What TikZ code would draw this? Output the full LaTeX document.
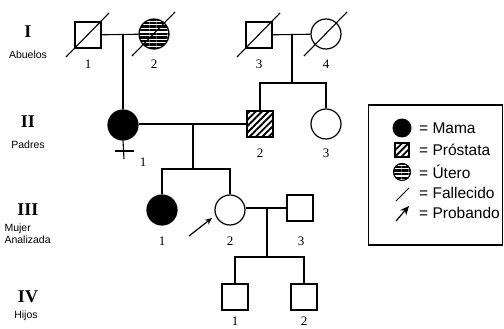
\documentclass[tikz,border=0pt]{standalone}
\usepackage{fontspec}
\setmainfont{Liberation Serif}
\setsansfont{Liberation Sans}
\usetikzlibrary{arrows.meta,positioning,calc,patterns.meta}

% diagonal stroke for deceased individuals
\newcommand{\fallecido}[1]{\draw[line width=1.1pt] ($(#1)+(-22,22)$) -- ($(#1)+(21,-22)$);}

\begin{document}
\begin{tikzpicture}[x=1pt,y=-1pt,
  male/.style={draw,line width=1.2pt,minimum size=26pt,inner sep=0pt},
  female/.style={draw,circle,line width=1.2pt,minimum size=30pt,inner sep=0pt},
  affected/.style={fill=black},
  prostata/.style={pattern={Lines[angle=45,distance=4.5pt,line width=1.9pt]}},
  utero/.style={pattern={Lines[angle=0,distance=3.6pt,line width=2.3pt]}},
  lin/.style={line width=1.1pt},
  num/.style={font=\fontsize{13}{15}\selectfont},
  gen/.style={font=\fontsize{18}{20}\selectfont\bfseries},
  genlab/.style={font=\sffamily\fontsize{10.5}{12}\selectfont,align=left},
  legtext/.style={font=\sffamily\fontsize{15.5}{18}\selectfont,anchor=west,inner sep=0pt},
  arr/.style={-{Stealth[length=7pt,width=6pt]},line width=1.2pt}
]
\useasboundingbox (0,0) rectangle (504,329);

% generation labels
\node[gen] (gI) at (28,32) {I};
\node[genlab] (gIt) at (28,55) {Abuelos};
\node[gen] (gII) at (28,122) {II};
\node[genlab] (gIIt) at (28,145) {Padres};
\node[gen] (gIII) at (28,210) {III};
\node[genlab,anchor=west] (gIIIt) at (1,234) {Mujer\\Analizada};
\node[gen] (gIV) at (28,297) {IV};
\node[genlab] (gIVt) at (26,316) {Hijos};

% generation I
\node[male] (I1) at (88,35) {};
\node[female,utero] (I2) at (154,34) {};
\node[male] (I3) at (259,35) {};
\node[female] (I4) at (326,34) {};
\fallecido{I1} \fallecido{I2} \fallecido{I3} \fallecido{I4}
\node[num] at (88,64) {1};
\node[num] at (154,64) {2};
\node[num] at (259,64) {3};
\node[num] at (326,64) {4};

% generation II
\node[female,affected] (II1) at (123,125) {};
\node[male,prostata] (II2) at (260,124) {};
\node[female] (II3) at (326,124) {};
\node[num] at (143,162) {1};
\node[num] at (260,153) {2};
\node[num] at (326,153) {3};
\coordinate (venus) at (124,159);
\draw[lin] (II1.south) -- (venus);
\draw[lin] (115,151) -- (134,151);

% generation III
\node[female,affected] (III1) at (162,210) {};
\node[female] (III2) at (230,210) {};
\node[male] (III3) at (300,208) {};
\node[num] at (162,241) {1};
\node[num] at (230,241) {2};
\node[num] at (301,241) {3};
\coordinate (prob) at (189,236);
\draw[arr] (prob) -- (212,218);

% generation IV
\node[male] (IV1) at (235,297) {};
\node[male] (IV2) at (304,297) {};
\node[num] at (235,321) {1};
\node[num] at (304,321) {2};

% couples and descent
\coordinate (m1) at (123,34);
\draw[lin] (I1) -- (I2);
\draw[lin] (m1) -- (II1);

\coordinate (m2) at (292,34);
\coordinate (s2) at (292,83);
\draw[lin] (I3) -- (I4);
\draw[lin] (m2) -- (s2);
\draw[lin] (II2.north) |- (s2) -| (II3.north);

\coordinate (m3) at (193,124);
\coordinate (s3) at (193,169);
\draw[lin] (II1.east |- II2) -- (II2);
\draw[lin] (m3) -- (s3);
\draw[lin] (III1.north) |- (s3) -| (III2.north);

\coordinate (m4) at (267,208);
\coordinate (s4) at (267,257);
\draw[lin] (III2.east |- III3) -- (III3);
\draw[lin] (m4) -- (s4);
\draw[lin] (IV1.north) |- (s4) -| (IV2.north);

% legend
\node[draw,line width=1.8pt,minimum width=134pt,minimum height=140pt] (legend) at (435.5,175) {};
\node[circle,fill,minimum size=19pt,inner sep=0pt] (kmama) at (402,128) {};
\node[draw,line width=1.1pt,prostata,minimum size=14pt,inner sep=0pt] (kpros) at (402,150) {};
\node[draw,circle,line width=1.1pt,utero,minimum size=17pt,inner sep=0pt] (kuter) at (402,172) {};
\coordinate (kfa) at (396,201);
\coordinate (kfb) at (409,188);
\draw[line width=0.9pt] (kfa) -- (kfb);
\coordinate (kpa) at (396,221);
\coordinate (kpb) at (409,206);
\draw[-{Stealth[length=9pt,width=8pt]},line width=1.2pt] (kpa) -- (kpb);
\node[legtext] (tmama) at (419,128) {= Mama};
\node[legtext] (tpros) at (419,150) {= Próstata};
\node[legtext] (tuter) at (419,172) {= Útero};
\node[legtext] (tfall) at (419,193) {= Fallecido};
\node[legtext] (tprob) at (419,213) {= Probando};
\end{tikzpicture}
\end{document}
